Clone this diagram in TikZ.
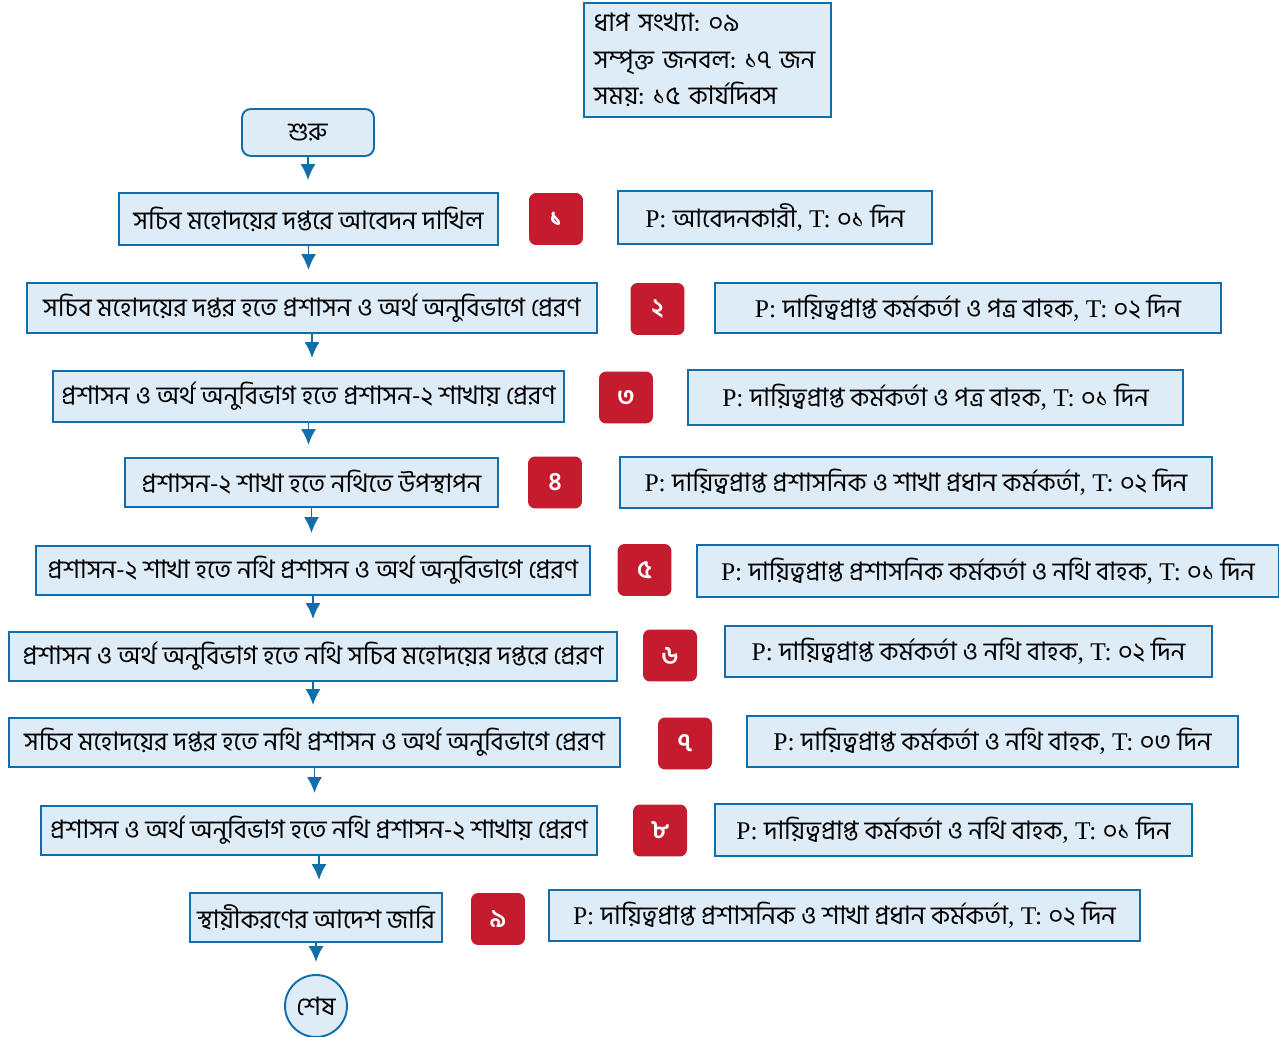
\documentclass[tikz,border=0pt]{standalone}
\usepackage{fontspec}
\setmainfont{Liberation Serif}
\newfontfamily\bn[Script=Bengali]{Hind Siliguri}
\definecolor{flowblue}{RGB}{16,110,170}
\definecolor{flowfill}{RGB}{222,236,248}
\definecolor{badgered}{RGB}{196,28,46}
\usetikzlibrary{arrows.meta}
\frenchspacing
\tikzset{
  proc/.style={draw=flowblue, fill=flowfill, line width=1.1pt, inner sep=0pt,
    font=\fontsize{14.5}{16}\selectfont},
  badge/.style={fill=badgered, rounded corners=4pt, text=white, inner sep=0pt,
    minimum width=1.08cm, minimum height=1.04cm, font=\fontsize{14.5}{16}\selectfont\bfseries},
  flow/.style={draw=flowblue, line width=1.1pt, -{Latex[length=9pt,width=8.5pt]}, shorten >=0.24cm}
}
\begin{document}
\begin{tikzpicture}[x=0.02cm, y=-0.02cm]
  \useasboundingbox (0,0) rectangle (1279,1037);

  % summary
  \node [proc, anchor=north west, minimum width=4.94cm, minimum height=2.28cm,
    text width=4.54cm, align=left, font=\fontsize{14.5}{20.7}\selectfont] (info) at (583,2)
    {\bn ধাপ সংখ্যা: ০৯\\ সম্পৃক্ত জনবল: ১৭ জন\\ সময়: ১৫ কার্যদিবস};

  % start / end
  \node [proc, rounded corners=5pt, minimum width=2.64cm, minimum height=0.94cm] (start) at (308,132.5) {\bn শুরু};
  \node [proc, circle, minimum size=1.24cm] (stop) at (316,1006) {\bn শেষ};

  % steps
  \node [proc, minimum width=7.58cm, minimum height=1.04cm] (s1) at (308.5,219) {\bn সচিব মহোদয়ের দপ্তরে আবেদন দাখিল};
  \node [proc, minimum width=11.40cm, minimum height=1.00cm] (s2) at (312,308) {\bn সচিব মহোদয়ের দপ্তর হতে প্রশাসন ও অর্থ অনুবিভাগে প্রেরণ};
  \node [proc, minimum width=10.22cm, minimum height=1.02cm] (s3) at (308.5,396.5) {\bn প্রশাসন ও অর্থ অনুবিভাগ হতে প্রশাসন-২ শাখায় প্রেরণ};
  \node [proc, minimum width=7.46cm, minimum height=0.98cm] (s4) at (311.5,482.5) {\bn প্রশাসন-২ শাখা হতে নথিতে উপস্থাপন};
  \node [proc, minimum width=11.08cm, minimum height=0.98cm] (s5) at (313,570.5) {\bn প্রশাসন-২ শাখা হতে নথি প্রশাসন ও অর্থ অনুবিভাগে প্রেরণ};
  \node [proc, minimum width=12.16cm, minimum height=0.98cm] (s6) at (313,656.5) {\bn প্রশাসন ও অর্থ অনুবিভাগ হতে নথি সচিব মহোদয়ের দপ্তরে প্রেরণ};
  \node [proc, minimum width=12.22cm, minimum height=0.98cm] (s7) at (314.5,742.5) {\bn সচিব মহোদয়ের দপ্তর হতে নথি প্রশাসন ও অর্থ অনুবিভাগে প্রেরণ};
  \node [proc, minimum width=11.12cm, minimum height=0.98cm] (s8) at (319,830.5) {\bn প্রশাসন ও অর্থ অনুবিভাগ হতে নথি প্রশাসন-২ শাখায় প্রেরণ};
  \node [proc, minimum width=5.04cm, minimum height=0.98cm] (s9) at (316,917.5) {\bn স্থায়ীকরণের আদেশ জারি};

  % step numbers
  \node [badge] (n1) at (556,219) {\bn ১};
  \node [badge] (n2) at (657.5,309) {\bn ২};
  \node [badge] (n3) at (626,397.5) {\bn ৩};
  \node [badge] (n4) at (555,482.5) {\bn ৪};
  \node [badge] (n5) at (644.5,570) {\bn ৫};
  \node [badge] (n6) at (670,655.5) {\bn ৬};
  \node [badge] (n7) at (685,743.5) {\bn ৭};
  \node [badge] (n8) at (660,830.5) {\bn ৮};
  \node [badge] (n9) at (498,919) {\bn ৯};

  % person and time
  \node [proc, minimum width=6.28cm, minimum height=1.06cm] (p1) at (775,217.5) {P: {\bn আবেদনকারী}, T: {\bn ০১ দিন}};
  \node [proc, minimum width=10.12cm, minimum height=1.00cm] (p2) at (968,308) {P: {\bn দায়িত্বপ্রাপ্ত কর্মকর্তা ও পত্র বাহক}, T: {\bn ০২ দিন}};
  \node [proc, minimum width=9.90cm, minimum height=1.10cm] (p3) at (935.5,397.5) {P: {\bn দায়িত্বপ্রাপ্ত কর্মকর্তা ও পত্র বাহক}, T: {\bn ০১ দিন}};
  \node [proc, minimum width=11.84cm, minimum height=1.02cm] (p4) at (916,482.5) {P: {\bn দায়িত্বপ্রাপ্ত প্রশাসনিক ও শাখা প্রধান কর্মকর্তা}, T: {\bn ০২ দিন}};
  \node [proc, minimum width=11.64cm, minimum height=1.04cm] (p5) at (988,571) {P: {\bn দায়িত্বপ্রাপ্ত প্রশাসনিক কর্মকর্তা ও নথি বাহক}, T: {\bn ০১ দিন}};
  \node [proc, minimum width=9.74cm, minimum height=1.02cm] (p6) at (968.5,651.5) {P: {\bn দায়িত্বপ্রাপ্ত কর্মকর্তা ও নথি বাহক}, T: {\bn ০২ দিন}};
  \node [proc, minimum width=9.82cm, minimum height=1.02cm] (p7) at (992.5,741.5) {P: {\bn দায়িত্বপ্রাপ্ত কর্মকর্তা ও নথি বাহক}, T: {\bn ০৩ দিন}};
  \node [proc, minimum width=9.54cm, minimum height=1.04cm] (p8) at (953.5,830) {P: {\bn দায়িত্বপ্রাপ্ত কর্মকর্তা ও নথি বাহক}, T: {\bn ০১ দিন}};
  \node [proc, minimum width=11.82cm, minimum height=1.02cm] (p9) at (844.5,915.5) {P: {\bn দায়িত্বপ্রাপ্ত প্রশাসনিক ও শাখা প্রধান কর্মকর্তা}, T: {\bn ০২ দিন}};

  % arrows
  \draw [flow] (start.south) -- (start.south |- s1.north);
  \draw [flow] (s1.south) -- (s1.south |- s2.north);
  \draw [flow] (s2.south) -- (s2.south |- s3.north);
  \draw [flow] (s3.south) -- (s3.south |- s4.north);
  \draw [flow] (s4.south) -- (s4.south |- s5.north);
  \draw [flow] (s5.south) -- (s5.south |- s6.north);
  \draw [flow] (s6.south) -- (s6.south |- s7.north);
  \draw [flow] (s7.south) -- (s7.south |- s8.north);
  \draw [flow] (s8.south) -- (s8.south |- s9.north);
  \draw [flow] (s9.south) -- (s9.south |- stop.north);
\end{tikzpicture}
\end{document}
